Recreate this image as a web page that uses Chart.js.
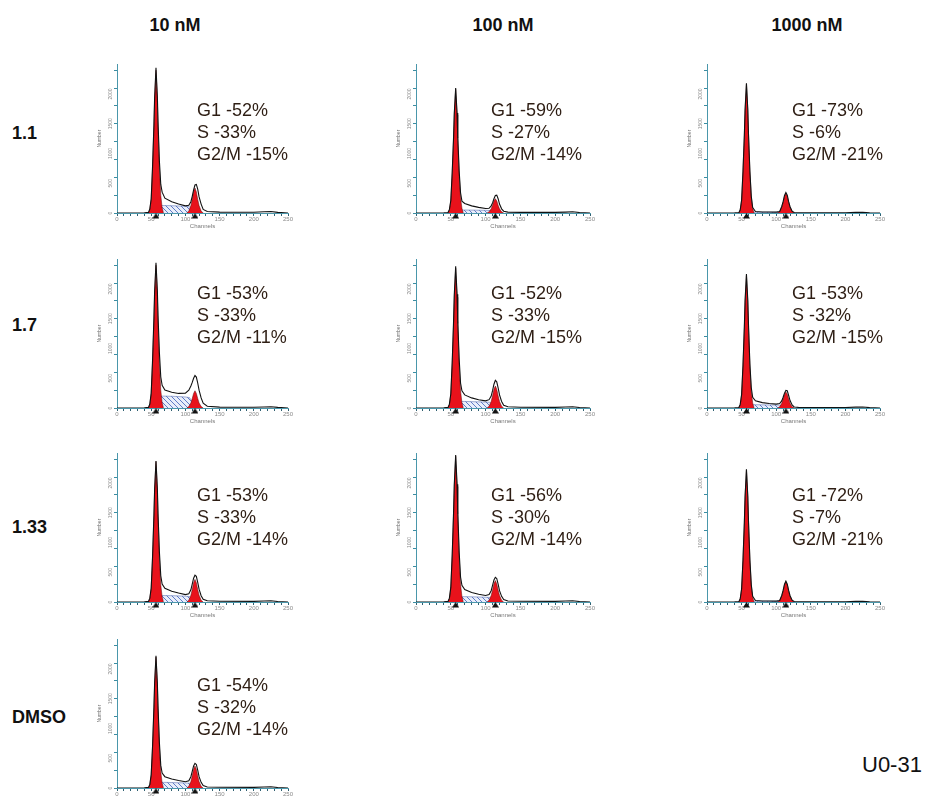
<!DOCTYPE html>
<html>
<head>
<meta charset="utf-8">
<script src="https://cdn.jsdelivr.net/npm/chart.js@4.4.0/dist/chart.umd.min.js"></script>
<style>
  body { margin: 0; background: #fff; width: 936px; height: 796px; position: relative; overflow: hidden;
         font-family: "Liberation Sans", Arial, sans-serif; }
  canvas { position: absolute; }
  .head { position: absolute; font-weight: bold; font-size: 18px; line-height: 20px; color: #111; transform: translateX(-50%); white-space: nowrap; }
  .row { position: absolute; left: 12px; font-weight: bold; font-size: 18px; line-height: 20px; color: #111; }
  .ann { position: absolute; font-size: 18px; line-height: 22px; color: #2e1e14; white-space: nowrap; }
  .tag { position: absolute; left: 862px; top: 753px; font-size: 22px; line-height: 24px; color: #111; }
</style>
</head>
<body>
<script>
// column and row labels
const doses = ['10 nM', '100 nM', '1000 nM'];
const ratios = ['1.1', '1.7', '1.33', 'DMSO'];

// panels, row by row (DMSO only has the 10 nM panel)
const panelCells = [[0, 0], [0, 1], [0, 2], [1, 0], [1, 1], [1, 2], [2, 0], [2, 1], [2, 2], [3, 0]];
const g1Percent = [52, 59, 73, 53, 52, 53, 53, 56, 72, 54];
const sPercent = [33, 27, 6, 33, 33, 32, 33, 30, 7, 32];
const g2Percent = [15, 14, 21, 11, 15, 15, 14, 14, 21, 14];

// histogram channels
const g1Channels = [46, 48, 50, 52, 54, 55, 57, 59, 60, 62, 64, 66, 68];
const g2Channels = [102, 105, 108, 110, 112, 114, 116, 118, 120, 123, 126];
const sChannels = [52, 56, 60, 70, 85, 100, 106, 110, 114];
const totalChannels = [0, 40, 46, 48, 50, 52, 54, 55, 57, 59, 60, 62, 64, 66, 70, 80, 90, 100, 105,
  108, 110, 112, 114, 116, 118, 120, 123, 126, 132, 150, 200, 215, 225, 235, 250];
const gateChannels = [57, 114];

// counts per panel
const g1Counts = [
  [0, 60, 230, 760, 1450, 1900, 2400, 1900, 1450, 760, 300, 90, 0],
  [0, 50, 200, 660, 1260, 1650, 2080, 1650, 1260, 660, 260, 80, 0],
  [0, 50, 210, 690, 1310, 1720, 2170, 1720, 1310, 690, 270, 80, 0],
  [0, 60, 240, 770, 1460, 1900, 2400, 1890, 1440, 750, 300, 90, 0],
  [0, 60, 230, 740, 1420, 1860, 2350, 1860, 1420, 740, 290, 90, 0],
  [0, 55, 220, 700, 1350, 1770, 2230, 1770, 1350, 700, 280, 85, 0],
  [0, 60, 230, 750, 1430, 1870, 2360, 1870, 1430, 750, 290, 90, 0],
  [0, 60, 240, 770, 1480, 1940, 2450, 1940, 1480, 770, 300, 95, 0],
  [0, 55, 220, 700, 1340, 1760, 2220, 1760, 1340, 700, 280, 85, 0],
  [0, 55, 215, 690, 1330, 1740, 2200, 1740, 1330, 690, 275, 85, 0]
];
const g2Counts = [
  [0, 35, 125, 230, 360, 420, 355, 230, 125, 35, 0],
  [0, 20, 70, 130, 205, 240, 205, 130, 70, 20, 0],
  [0, 25, 100, 180, 280, 330, 280, 180, 100, 25, 0],
  [0, 25, 85, 160, 245, 290, 245, 160, 85, 25, 0],
  [0, 30, 110, 205, 315, 370, 315, 205, 110, 30, 0],
  [0, 20, 80, 150, 230, 270, 230, 150, 80, 20, 0],
  [0, 30, 115, 210, 325, 380, 325, 210, 115, 30, 0],
  [0, 30, 110, 200, 305, 360, 305, 200, 110, 30, 0],
  [0, 25, 100, 185, 290, 340, 290, 185, 100, 25, 0],
  [0, 30, 110, 205, 315, 370, 315, 205, 110, 30, 0]
];
const sCounts = [
  [0, 75, 125, 125, 120, 112, 105, 60, 0],
  [0, 30, 50, 50, 48, 45, 42, 25, 0],
  [0, 8, 12, 12, 12, 11, 10, 6, 0],
  [0, 120, 200, 200, 195, 185, 175, 100, 0],
  [0, 65, 110, 110, 105, 100, 95, 55, 0],
  [0, 33, 55, 55, 52, 50, 47, 28, 0],
  [0, 65, 110, 108, 104, 98, 92, 55, 0],
  [0, 55, 90, 90, 86, 80, 76, 45, 0],
  [0, 8, 12, 12, 12, 11, 10, 6, 0],
  [0, 57, 95, 95, 90, 85, 80, 48, 0]
];
const totalCounts = [
  [0, 5, 10, 70, 240, 790, 1490, 1940, 2440, 1960, 1530, 870, 480, 350, 250, 190, 150, 120, 130, 190, 280, 390, 470, 480, 400, 270, 150, 60, 25, 15, 12, 20, 25, 10, 0],
  [0, 5, 8, 60, 210, 680, 1280, 1670, 2100, 1680, 1290, 710, 340, 200, 160, 120, 95, 75, 80, 120, 170, 240, 295, 300, 240, 150, 70, 30, 15, 10, 10, 15, 20, 8, 0],
  [0, 3, 5, 55, 215, 700, 1320, 1730, 2180, 1730, 1320, 700, 280, 90, 25, 18, 16, 15, 25, 110, 190, 295, 345, 300, 190, 105, 30, 8, 5, 4, 5, 10, 12, 5, 0],
  [0, 5, 10, 70, 250, 810, 1530, 1960, 2440, 1980, 1550, 930, 520, 380, 300, 265, 245, 250, 300, 370, 430, 500, 545, 520, 420, 300, 170, 80, 30, 15, 12, 18, 22, 10, 0],
  [0, 5, 10, 65, 240, 770, 1470, 1900, 2380, 1910, 1480, 830, 420, 290, 220, 170, 140, 120, 140, 200, 290, 400, 465, 440, 340, 220, 110, 45, 20, 12, 10, 18, 22, 8, 0],
  [0, 4, 8, 60, 225, 720, 1380, 1800, 2250, 1800, 1390, 740, 340, 180, 120, 90, 75, 65, 75, 120, 180, 250, 295, 290, 210, 125, 50, 18, 10, 8, 8, 14, 18, 6, 0],
  [0, 5, 10, 65, 235, 770, 1470, 1900, 2370, 1910, 1480, 840, 440, 300, 230, 180, 150, 125, 140, 205, 300, 400, 450, 430, 330, 215, 105, 45, 20, 12, 10, 18, 22, 8, 0],
  [0, 5, 10, 65, 245, 790, 1520, 1970, 2470, 1980, 1530, 850, 420, 280, 210, 160, 130, 110, 125, 190, 280, 370, 415, 395, 300, 190, 95, 40, 18, 12, 10, 16, 20, 8, 0],
  [0, 3, 5, 55, 220, 710, 1350, 1770, 2230, 1770, 1350, 710, 290, 95, 25, 18, 16, 15, 25, 110, 195, 300, 350, 300, 195, 105, 30, 8, 5, 4, 5, 10, 12, 5, 0],
  [0, 5, 10, 60, 225, 710, 1370, 1770, 2220, 1770, 1370, 760, 380, 250, 190, 150, 125, 105, 120, 190, 280, 370, 415, 395, 300, 190, 95, 40, 18, 12, 10, 16, 20, 8, 0]
];
const yTickLabels = [0, 500, 1000, 1500, 2000];

// layout of the grid (plot area edges in px)
const colLeft = [117, 416, 707];
const colRight = [288, 590, 880];
const rowTop = [62, 257, 451, 637];
const rowBottom = [213, 408, 602, 788];
const annLeft = [197, 491, 792];
const annTop = [99, 282, 484, 674];
const headX = [175, 503, 807];
const rowLabelY = [123, 315, 517, 707];

const AXIS_W = 20, AXIS_H = 17, PAD_T = 5, PAD_R = 8;
const RED = '#e8121b';

function addDiv(cls, text, left, top) {
  const d = document.createElement('div');
  d.className = cls;
  d.innerHTML = text;
  if (left !== null) d.style.left = left + 'px';
  d.style.top = top + 'px';
  document.body.appendChild(d);
  return d;
}

function hatchPattern() {
  const c = document.createElement('canvas');
  c.width = 5; c.height = 5;
  const x = c.getContext('2d');
  x.fillStyle = '#e9eefa';
  x.fillRect(0, 0, 5, 5);
  x.strokeStyle = '#5f7bc8';
  x.lineWidth = 1;
  x.beginPath();
  x.moveTo(-1, -1); x.lineTo(6, 6);
  x.stroke();
  return x.createPattern(c, 'repeat');
}

// gate marker: small black triangle hanging just under the axis
function gateMarker() {
  const c = document.createElement('canvas');
  c.width = 7; c.height = 12;
  const x = c.getContext('2d');
  x.fillStyle = '#111';
  x.beginPath();
  x.moveTo(3.5, 6); x.lineTo(7, 11.5); x.lineTo(0, 11.5);
  x.closePath();
  x.fill();
  return c;
}

function pts(xs, ys) {
  return xs.map((x, i) => ({ x: x, y: ys[i] }));
}

// rotated y tick labels, like the cytometer software prints them
const yLabels = {
  id: 'yLabels',
  afterDraw(chart) {
    const { ctx, chartArea, scales } = chart;
    ctx.save();
    ctx.fillStyle = '#8a8a8a';
    ctx.font = '5px "Liberation Sans"';
    ctx.textAlign = 'center';
    ctx.textBaseline = 'bottom';
    yTickLabels.forEach(v => {
      const py = scales.y.getPixelForValue(v);
      ctx.save();
      ctx.translate(chartArea.left - 4, py);
      ctx.rotate(-Math.PI / 2);
      ctx.fillText(String(v), 0, 0);
      ctx.restore();
    });
    ctx.restore();
  }
};

// headers
doses.forEach((d, i) => addDiv('head', d, headX[i], 15));
ratios.forEach((r, i) => addDiv('row', r, null, rowLabelY[i]));
addDiv('tag', 'U0-31', null, 753);

const hatch = hatchPattern();
const marker = gateMarker();

panelCells.forEach(([r, c], p) => {
  const x0 = colLeft[c], x1 = colRight[c], y0 = rowTop[r], y1 = rowBottom[r];
  const canvas = document.createElement('canvas');
  canvas.width = AXIS_W + (x1 - x0) + PAD_R;
  canvas.height = PAD_T + (y1 - y0) + AXIS_H;
  canvas.style.left = (x0 - AXIS_W) + 'px';
  canvas.style.top = (y0 - PAD_T) + 'px';
  document.body.appendChild(canvas);

  new Chart(canvas.getContext('2d'), {
    type: 'line',
    data: {
      datasets: [
        {
          data: pts(sChannels, sCounts[p]),
          fill: 'origin', backgroundColor: hatch,
          borderColor: '#5f74b4', borderWidth: 0.6, order: 3
        },
        {
          data: pts(g1Channels, g1Counts[p]),
          fill: 'origin', backgroundColor: RED,
          borderColor: '#5a0c0c', borderWidth: 0.5, order: 2
        },
        {
          data: pts(g2Channels, g2Counts[p]),
          fill: 'origin', backgroundColor: RED,
          borderColor: '#5a0c0c', borderWidth: 0.5, order: 2
        },
        {
          data: pts(totalChannels, totalCounts[p]),
          fill: false, borderColor: '#111', borderWidth: 1.1, order: 1
        },
        {
          data: gateChannels.map(g => ({ x: g, y: 0 })),
          showLine: false, pointStyle: marker, pointRadius: 4,
          clip: false, order: 0
        }
      ]
    },
    options: {
      responsive: false,
      animation: false,
      events: [],
      layout: { padding: { top: PAD_T, right: PAD_R, left: 0, bottom: 0 } },
      elements: { line: { tension: 0 }, point: { radius: 0 } },
      plugins: { legend: { display: false }, tooltip: { enabled: false } },
      scales: {
        x: {
          type: 'linear', min: 0, max: 250,
          afterFit: s => { s.height = AXIS_H; },
          border: { color: '#4a97ab', width: 1 },
          grid: { drawOnChartArea: false, tickLength: 3, color: '#2f5f70' },
          ticks: {
            stepSize: 10, autoSkip: false, maxRotation: 0, padding: 0,
            color: '#8a8a8a', font: { size: 6 },
            callback: v => (v % 50 === 0 ? v : '')
          },
          title: { display: true, text: 'Channels', color: '#777', font: { size: 6 }, padding: 0 }
        },
        y: {
          min: 0, max: 2500,
          afterFit: s => { s.width = AXIS_W; },
          border: { color: '#4a97ab', width: 1 },
          grid: { drawOnChartArea: false, tickLength: 3, color: '#3c8da2' },
          ticks: { stepSize: 100, padding: 0, callback: () => '' },
          title: { display: true, text: 'Number', color: '#777', font: { size: 5 }, padding: 0 }
        }
      }
    },
    plugins: [yLabels]
  });

  addDiv('ann', 'G1 -' + g1Percent[p] + '%<br>S -' + sPercent[p] + '%<br>G2/M -' + g2Percent[p] + '%',
    annLeft[c], annTop[r]);
});
</script>
</body>
</html>
